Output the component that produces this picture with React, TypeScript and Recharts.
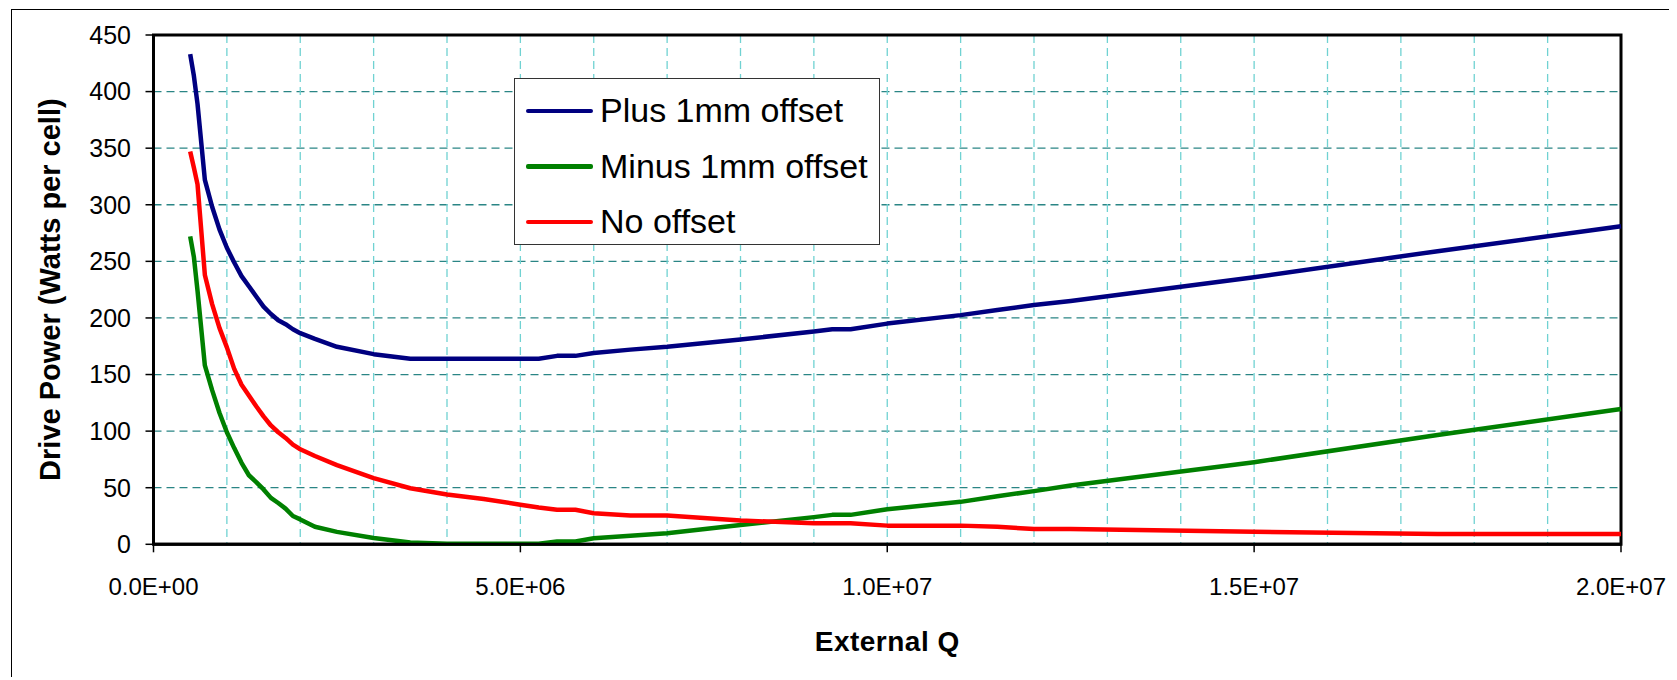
import React from 'react';
import {
  LineChart,
  Line,
  XAxis,
  YAxis,
  CartesianGrid,
  Legend,
  ReferenceArea,
  Label,
} from 'recharts';

const FONT = '"Liberation Sans", Arial, sans-serif';

// External Q values where the three curves were sampled
const externalQ = [
  500000, 550000, 600000, 700000, 800000, 900000, 1000000, 1100000, 1200000,
  1300000, 1400000, 1500000, 1600000, 1700000, 1800000, 1900000, 2000000,
  2200000, 2500000, 3000000, 3500000, 4000000, 4500000, 5000000, 5250000,
  5500000, 5750000, 6000000, 6500000, 7000000, 8000000, 9000000, 9250000,
  9500000, 10000000, 11000000, 11500000, 12000000, 12500000, 15000000,
  17500000, 20000000,
];

// Drive power, watts per cell
const plusOffset = [
  433, 414, 389, 322, 298, 278, 262, 249, 237, 228, 219, 210, 203.5, 198, 194.5,
  190, 186.5, 181.5, 174.5, 168, 164, 164, 164, 164, 164, 166.5, 166.5, 169, 172,
  174.5, 181, 188, 190, 190, 195, 202.5, 207, 211.5, 215, 236, 259, 281,
];
const minusOffset = [
  272, 254, 224, 158, 136, 116, 99, 85, 72, 61, 55, 48.5, 41, 36.5, 31.5, 25, 22,
  15.5, 11, 5.5, 1.5, 0.5, 0.5, 0.5, 0.5, 2.5, 2.5, 5.3, 7.5, 9.7, 17, 24, 26, 26,
  31, 37.5, 42.5, 47, 52, 72.5, 96.5, 119.5,
];
const noOffset = [
  347, 333, 318, 238, 212, 191, 174, 155, 141, 131.5, 122, 113, 105, 99, 94, 88,
  84, 78, 70, 58.5, 49.5, 44, 40, 35, 32.5, 30.5, 30.5, 27.5, 25.5, 25.5, 21, 18.5,
  18.5, 18.5, 16.5, 16.5, 15.5, 13.5, 13.5, 11, 9, 9,
];

const seriesKeys = ['plus', 'minus', 'none'];
const seriesNames = ['Plus 1mm offset', 'Minus 1mm offset', 'No offset'];
const seriesColors = ['#000080', '#008000', '#FF0000'];

const qGridTicks = [
  0, 1000000, 2000000, 3000000, 4000000, 5000000, 6000000, 7000000, 8000000,
  9000000, 10000000, 11000000, 12000000, 13000000, 14000000, 15000000, 16000000,
  17000000, 18000000, 19000000, 20000000,
];
const qLabelTicks = [0, 5000000, 10000000, 15000000, 20000000];
const qTickLabels = ['0.0E+00', '5.0E+06', '1.0E+07', '1.5E+07', '2.0E+07'];
const powerTicks = [0, 50, 100, 150, 200, 250, 300, 350, 400, 450];

const data = externalQ.map((q, i) => ({
  q,
  plus: plusOffset[i],
  minus: minusOffset[i],
  none: noOffset[i],
}));

function QTick(props: any) {
  const { x, y, payload } = props;
  const i = qLabelTicks.indexOf(payload.value);
  if (i < 0) return <g />;
  return (
    <g>
      <line x1={x} x2={x} y1={y} y2={y + 8} stroke="#000" strokeWidth={1.5} />
      <text
        x={x}
        y={y + 51}
        textAnchor="middle"
        fontSize={24}
        fontFamily={FONT}
        fill="#000"
      >
        {qTickLabels[i]}
      </text>
    </g>
  );
}

function LegendBox(props: any) {
  // keep the series order, not the alphabetical one
  const items = [...(props.payload || [])].sort(
    (a: any, b: any) => seriesNames.indexOf(a.value) - seriesNames.indexOf(b.value)
  );
  return (
    <div
      style={{
        width: 366,
        height: 167,
        boxSizing: 'border-box',
        border: '1.5px solid #333',
        background: '#fff',
        paddingTop: 4,
        fontFamily: FONT,
      }}
    >
      {items.map((item: any) => (
        <div
          key={item.value}
          style={{ display: 'flex', alignItems: 'center', height: 55.5 }}
        >
          <div
            style={{
              width: 67,
              height: 4.5,
              marginLeft: 11,
              borderRadius: 2,
              background: item.color,
            }}
          />
          <span style={{ marginLeft: 7, fontSize: 34, color: '#000' }}>
            {item.value}
          </span>
        </div>
      ))}
    </div>
  );
}

export default function App() {
  return (
    <div
      style={{
        position: 'relative',
        left: 3,
        top: 1,
        width: 1663,
        height: 669,
        boxSizing: 'border-box',
        border: '1px solid #000',
        background: '#fff',
      }}
    >
      <LineChart
        width={1661}
        height={667}
        data={data}
        margin={{ top: 25, right: 52, left: 0, bottom: 0 }}
      >
        <CartesianGrid
          vertical={false}
          stroke="#2a8585"
          strokeWidth={1.3}
          strokeDasharray="8 5"
        />
        <CartesianGrid
          horizontal={false}
          stroke="#70d2d2"
          strokeWidth={1.3}
          strokeDasharray="8 5"
        />
        <XAxis
          dataKey="q"
          type="number"
          domain={[0, 20000000]}
          ticks={qGridTicks}
          interval={0}
          height={132.7}
          tickLine={false}
          tickSize={0}
          tickMargin={0}
          tick={<QTick />}
          axisLine={{ stroke: '#000', strokeWidth: 3 }}
        >
          <Label
            content={(p: any) => {
              const vb = p.viewBox;
              return (
                <text
                  x={vb.x + vb.width / 2}
                  y={vb.y + 107}
                  textAnchor="middle"
                  fontSize={28}
                  fontWeight="bold"
                  fontFamily={FONT}
                  letterSpacing={0.5}
                  fill="#000"
                >
                  External Q
                </text>
              );
            }}
          />
        </XAxis>
        <YAxis
          type="number"
          domain={[0, 450]}
          ticks={powerTicks}
          interval={0}
          width={141.5}
          tickSize={8}
          tickMargin={14.5}
          tickLine={{ stroke: '#000', strokeWidth: 1.5 }}
          axisLine={{ stroke: '#000', strokeWidth: 3 }}
          tick={{ fontSize: 25, fill: '#000', fontFamily: FONT }}
        >
          <Label
            content={(p: any) => {
              const vb = p.viewBox;
              const cy = vb.y + vb.height / 2;
              return (
                <text
                  x={48}
                  y={cy}
                  transform={`rotate(-90, 48, ${cy})`}
                  textAnchor="middle"
                  fontSize={29}
                  fontWeight="bold"
                  fontFamily={FONT}
                  fill="#000"
                >
                  Drive Power (Watts per cell)
                </text>
              );
            }}
          />
        </YAxis>
        <ReferenceArea
          x1={0}
          x2={20000000}
          y1={0}
          y2={450}
          fill="none"
          stroke="#000"
          strokeWidth={3}
        />
        {seriesKeys.map((key, i) => (
          <Line
            key={key}
            type="linear"
            dataKey={key}
            name={seriesNames[i]}
            stroke={seriesColors[i]}
            strokeWidth={4.5}
            strokeLinejoin="round"
            dot={false}
            activeDot={false}
            isAnimationActive={false}
          />
        ))}
        <Legend
          layout="vertical"
          align="center"
          verticalAlign="middle"
          wrapperStyle={{ left: 502, top: 68, width: 366, height: 167 }}
          content={<LegendBox />}
        />
      </LineChart>
    </div>
  );
}
